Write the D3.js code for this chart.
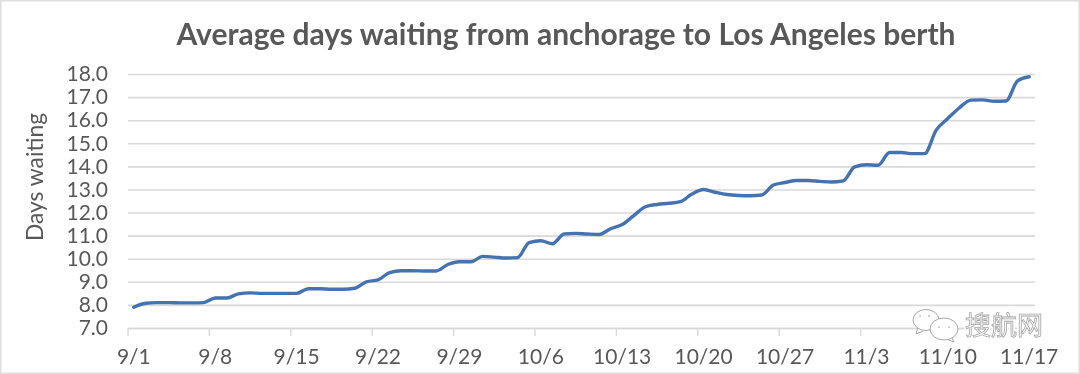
<!DOCTYPE html>
<html>
<head>
<meta charset="utf-8">
<script src="https://cdn.jsdelivr.net/npm/d3@7"></script>
<style>
    html, body { margin: 0; padding: 0; background: #fff; }
    svg { display: block; font-family: Lato, "Open Sans", sans-serif; }
</style>
</head>
<body>
<div id="chart"></div>
<script>
const chartTitle = "Average days waiting from anchorage to Los Angeles berth";
const yTitle = "Days waiting";
const watermark = "搜航网";

// one value per day, 9/1 to 11/17
const daysWaiting = [
    7.9, 8.07, 8.1, 8.1, 8.09, 8.09, 8.1, 8.3, 8.3, 8.48,
    8.52, 8.5, 8.5, 8.5, 8.5, 8.7, 8.7, 8.68, 8.68, 8.72,
    9.0, 9.08, 9.4, 9.48, 9.48, 9.47, 9.47, 9.75, 9.87, 9.87,
    10.1, 10.07, 10.03, 10.05, 10.7, 10.78, 10.65, 11.07, 11.1, 11.07,
    11.05, 11.3, 11.48, 11.87, 12.25, 12.35, 12.4, 12.47, 12.8, 13.0,
    12.88, 12.78, 12.74, 12.73, 12.76, 13.19, 13.3, 13.39, 13.39, 13.35,
    13.32, 13.37, 13.98, 14.07, 14.05, 14.6, 14.6, 14.55, 14.55, 15.57,
    16.07, 16.54, 16.87, 16.88, 16.82, 16.83, 17.7, 17.88
];
const dayLabels = d3.timeDay.range(new Date(2021, 8, 1), new Date(2021, 10, 18))
    .map(d => (d.getMonth() + 1) + "/" + d.getDate());
const xTickLabels = ["9/1", "9/8", "9/15", "9/22", "9/29", "10/6", "10/13", "10/20", "10/27", "11/3", "11/10", "11/17"];
const yTicks = [7, 8, 9, 10, 11, 12, 13, 14, 15, 16, 17, 18];

const width = 1080, height = 374;
const margin = { top: 74, right: 45, bottom: 46, left: 128 };
const innerW = width - margin.left - margin.right;
const innerH = height - margin.top - margin.bottom;

const textCol = "#595959", gridCol = "#d9d9d9";

const svg = d3.select("#chart").append("svg")
    .attr("width", width)
    .attr("height", height);

// the reference is a soft screenshot
svg.append("defs").append("filter")
    .attr("id", "soft")
    .append("feGaussianBlur")
    .attr("stdDeviation", 0.4);

const page = svg.append("g").attr("filter", "url(#soft)");

// faint frame of the screenshot
page.append("rect")
    .attr("x", 0.5)
    .attr("y", 0.5)
    .attr("width", width - 1)
    .attr("height", height - 1)
    .attr("fill", "none")
    .attr("stroke", "#dedede")
    .attr("stroke-width", 2);

const g = page.append("g")
    .attr("transform", "translate(" + margin.left + "," + margin.top + ")");

// scales
const x = d3.scaleBand().domain(dayLabels).range([0, innerW]);
const y = d3.scaleLinear().domain([7, 18]).range([innerH, 0]);

// gridlines and y labels
const yAxis = g.append("g")
    .call(d3.axisLeft(y).tickValues(yTicks).tickFormat(d3.format(".1f")).tickSize(-innerW).tickPadding(20))
    .attr("font-family", null);
yAxis.select(".domain").remove();
yAxis.selectAll("line").attr("stroke", gridCol).attr("stroke-width", 1.6);
yAxis.selectAll("text")
    .attr("fill", textCol)
    .attr("font-size", "21px");

// x labels sit in the middle of the band, tick marks on its left edge
const xAxis = g.append("g")
    .attr("transform", "translate(0," + innerH + ")")
    .call(d3.axisBottom(x).tickValues(xTickLabels).tickSize(0).tickPadding(21))
    .attr("font-family", null);
xAxis.select(".domain").attr("stroke", gridCol).attr("stroke-width", 1.6);
xAxis.selectAll("text")
    .attr("fill", textCol)
    .attr("font-size", "21px");

g.append("g").selectAll("line")
    .data(xTickLabels)
    .enter().append("line")
    .attr("x1", d => x(d))
    .attr("x2", d => x(d))
    .attr("y1", innerH)
    .attr("y2", innerH + 8)
    .attr("stroke", gridCol)
    .attr("stroke-width", 1.4);

// the line
const line = d3.line()
    .x((d, i) => x(dayLabels[i]) + x.bandwidth() / 2)
    .y(d => y(d))
    .curve(d3.curveMonotoneX);

g.append("path")
    .datum(daysWaiting)
    .attr("fill", "none")
    .attr("stroke", "#4472b0")
    .attr("stroke-width", 3.4)
    .attr("stroke-linecap", "round")
    .attr("d", line);

// titles
page.append("text")
    .attr("x", 566)
    .attr("y", 45)
    .attr("text-anchor", "middle")
    .attr("font-size", "30px")
    .attr("font-weight", 700)
    .attr("fill", textCol)
    .text(chartTitle);

page.append("text")
    .attr("transform", "translate(43,177) rotate(-90)")
    .attr("text-anchor", "middle")
    .attr("font-size", "22.8px")
    .attr("fill", textCol)
    .text(yTitle);

// watermark: two chat bubbles and the site name
const mark = page.append("g")
    .attr("fill", "#fff")
    .attr("stroke", "#a6a6a6")
    .attr("stroke-width", 1);
mark.append("path").attr("d", "M918 327l-2 7 7-3");
mark.append("ellipse").attr("cx", 926).attr("cy", 320).attr("rx", 13).attr("ry", 10.5);
mark.append("path").attr("d", "M951 336l3 6-8-3");
mark.append("ellipse").attr("cx", 944).attr("cy", 329).attr("rx", 14).attr("ry", 11);
mark.selectAll(".eye")
    .data([[920, 316], [929, 316], [939, 327], [949, 327]])
    .enter().append("circle")
    .attr("class", "eye")
    .attr("cx", d => d[0])
    .attr("cy", d => d[1])
    .attr("r", 0.8)
    .attr("fill", "#999")
    .attr("stroke", "none");
mark.append("text")
    .attr("x", 965)
    .attr("y", 335)
    .attr("font-family", "Noto Sans CJK SC")
    .attr("font-size", "26px")
    .attr("stroke", "#fff")
    .attr("stroke-width", 4)
    .text(watermark);
mark.append("text")
    .attr("x", 965)
    .attr("y", 335)
    .attr("font-family", "Noto Sans CJK SC")
    .attr("font-size", "26px")
    .attr("stroke-width", 0.8)
    .text(watermark);
</script>
</body>
</html>
